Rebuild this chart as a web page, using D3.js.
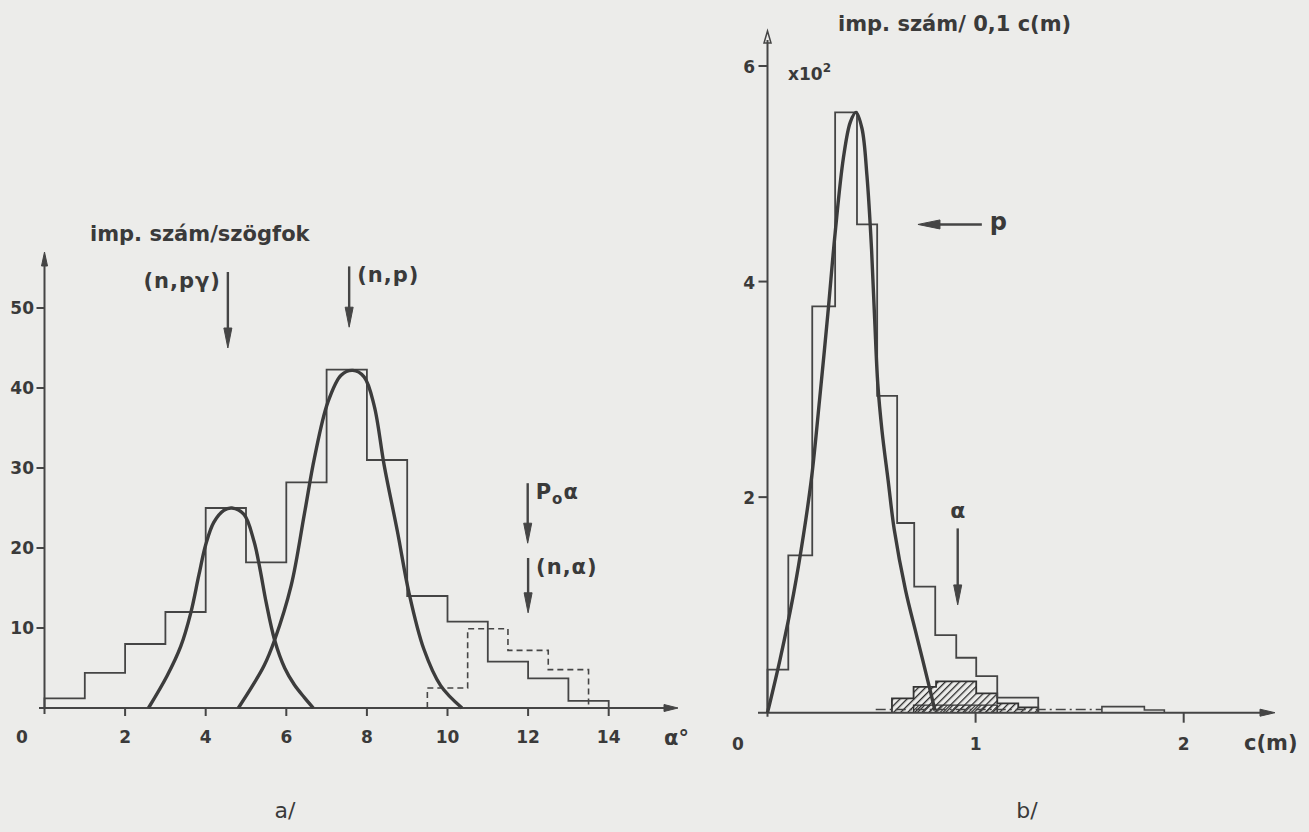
<!DOCTYPE html>
<html>

<head>
  <meta charset='utf-8'>
  <title>imp. szám spektrumok</title>
  <script src="https://cdnjs.cloudflare.com/ajax/libs/d3/7.8.5/d3.min.js"></script>
  <style>
    body { margin: 0; background: #ececea; }
    text { font-family: 'DejaVu Sans', sans-serif; fill: #3a3a3a; font-weight: bold; }
    .tick-label { font-size: 17px; }
    .label { font-size: 21px; }
  </style>
</head>

<body>
  <svg id="chart" width="1309" height="832"></svg>
  <script>
    // ---- a/ panel: counts per degree ----
    const angleEdges = [0, 1, 2, 3, 4, 5, 6, 7, 8, 9, 10, 11, 12, 13, 14];
    const angleCounts = [1.2, 4.4, 8, 12, 25, 18.2, 28.2, 42.3, 31, 14, 10.8, 5.8, 3.7, 0.9];
    const alphaEdges = [9.5, 10.5, 11.5, 12.5, 13.5];
    const alphaCounts = [2.5, 9.9, 7.2, 4.8];
    // fitted peaks as [angle, count]
    const npgCurve = [[2.58, 0], [3.04, 4], [3.38, 7.7], [3.63, 11.9], [3.83, 16.6], [4.0, 20.4], [4.2, 23.2],
      [4.45, 24.7], [4.65, 25.0], [4.95, 24.2], [5.2, 20.8], [5.35, 17.3], [5.5, 13.2], [5.71, 8.5],
      [5.96, 5.0], [6.2, 2.9], [6.45, 1.3], [6.67, 0]];
    const npCurve = [[4.81, 0], [5.14, 2.6], [5.45, 5.3], [5.71, 8.5], [6.12, 15.3], [6.45, 24.3], [6.7, 31.3],
      [7.03, 38.2], [7.36, 41.6], [7.65, 42.2], [7.93, 41.4], [8.18, 37.8], [8.43, 30.3], [8.76, 22],
      [9.04, 14.5], [9.41, 7.4], [9.83, 2.8], [10.36, 0]];
    const angleTicksX = [2, 4, 6, 8, 10, 12, 14];
    const angleTicksY = [10, 20, 30, 40, 50];

    // ---- b/ panel: counts per 0.1 c(m), x10^2 ----
    const rangeEdges = [0, 0.10, 0.215, 0.325, 0.43, 0.527, 0.623, 0.705, 0.806, 0.907, 1.003, 1.104, 1.301];
    const rangeCounts = [0.40, 1.46, 3.77, 5.57, 4.53, 2.94, 1.76, 1.17, 0.72, 0.51, 0.34, 0.14];
    const tailEdges = [1.607, 1.811, 1.907];
    const tailCounts = [0.056, 0.025];
    const hatchEdges = [0.598, 0.702, 0.81, 1.003, 1.104, 1.205, 1.301];
    const hatchCounts = [0.133, 0.24, 0.29, 0.18, 0.087, 0.05];
    const hatchLowEdges = [0.702, 1.104];
    const hatchLowCounts = [0.07];
    const dashLevel = { from: 0.52, to: 1.607, value: 0.03 };
    const protonCurve = [[0, 0], [0.061, 0.5], [0.125, 1.1], [0.173, 1.65], [0.213, 2.2], [0.25, 2.9],
      [0.29, 3.7], [0.325, 4.45], [0.365, 5.15], [0.398, 5.48], [0.425, 5.57], [0.454, 5.42], [0.478, 4.98],
      [0.5, 4.3], [0.515, 3.65], [0.53, 3.05], [0.55, 2.62], [0.58, 2.15], [0.609, 1.7], [0.663, 1.14],
      [0.716, 0.72], [0.761, 0.37], [0.805, 0.02]];
    const rangeTicksX = [1, 2];
    const rangeTicksY = [2, 4, 6];

    const svg = d3.select('#chart');
    svg.append('rect').attr('width', 1309).attr('height', 832).attr('fill', '#ececea');

    const defs = svg.append('defs');
    function hatch(id, size, width) {
      defs.append('pattern')
        .attr('id', id)
        .attr('width', size).attr('height', size)
        .attr('patternUnits', 'userSpaceOnUse')
        .attr('patternTransform', 'rotate(45)')
        .append('line')
        .attr('x1', 0).attr('y1', 0).attr('x2', 0).attr('y2', size)
        .attr('stroke', '#2a2a2a').attr('stroke-width', width);
    }
    hatch('hatchUp', 5, 2.6);
    hatch('hatchLow', 4, 2.2);

    const ink = '#454545';

    const xL = d3.scaleLinear().domain([0, 14]).range([44.5, 608.7]);
    const yL = d3.scaleLinear().domain([0, 50]).range([708, 308]);
    const xR = d3.scaleLinear().domain([0, 2]).range([767.5, 1183.7]);
    const yR = d3.scaleLinear().domain([0, 6]).range([712.7, 66]);

    function stepPoints(edges, counts) {
      const pts = [[edges[0], 0]];
      counts.forEach((c, i) => {
        pts.push([edges[i], c]);
        pts.push([edges[i + 1], c]);
      });
      pts.push([edges[edges.length - 1], 0]);
      return pts;
    }

    function arrowHead(g, x, y, dir, len, half, open) {
      // dir: 'down', 'left', 'right', 'up'
      let pts;
      if (dir === 'down') pts = [[x, y], [x - half, y - len], [x + half, y - len]];
      if (dir === 'up') pts = [[x, y], [x - half, y + len], [x + half, y + len]];
      if (dir === 'left') pts = [[x, y], [x + len, y - half], [x + len, y + half]];
      if (dir === 'right') pts = [[x, y], [x - len, y - half], [x - len, y + half]];
      g.append('path')
        .attr('d', 'M' + pts.map(p => p.join(',')).join('L') + 'Z')
        .attr('fill', open ? 'none' : ink)
        .attr('stroke', ink)
        .attr('stroke-width', open ? 1.5 : 1);
    }

    // ================= a/ =================
    const ga = svg.append('g');
    const lineL = d3.line().x(d => xL(d[0])).y(d => yL(d[1]));
    const smoothL = d3.line().x(d => xL(d[0])).y(d => yL(d[1])).curve(d3.curveCatmullRom.alpha(0.5));

    // axes
    ga.append('line').attr('x1', 39).attr('x2', 670).attr('y1', yL(0)).attr('y2', yL(0))
      .attr('stroke', ink).attr('stroke-width', 2);
    arrowHead(ga, 678, yL(0), 'right', 14, 3.5, false);
    ga.append('line').attr('x1', xL(0)).attr('x2', xL(0)).attr('y1', yL(0) + 6).attr('y2', 256)
      .attr('stroke', ink).attr('stroke-width', 2);
    arrowHead(ga, xL(0), 252, 'up', 14, 3, false);

    ga.selectAll('.xt').data(angleTicksX).join('line')
      .attr('x1', d => xL(d)).attr('x2', d => xL(d))
      .attr('y1', yL(0)).attr('y2', yL(0) + 8)
      .attr('stroke', ink).attr('stroke-width', 2);
    ga.selectAll('.yt').data(angleTicksY).join('line')
      .attr('x1', xL(0) - 8).attr('x2', xL(0))
      .attr('y1', d => yL(d)).attr('y2', d => yL(d))
      .attr('stroke', ink).attr('stroke-width', 2);

    ga.selectAll('.xl').data(angleTicksX).join('text')
      .attr('class', 'tick-label')
      .attr('x', d => xL(d)).attr('y', 743)
      .attr('text-anchor', 'middle')
      .text(d => d);
    ga.append('text').attr('class', 'tick-label').attr('x', 22).attr('y', 743)
      .attr('text-anchor', 'middle').text('0');
    ga.selectAll('.yl').data(angleTicksY).join('text')
      .attr('class', 'tick-label')
      .attr('x', 34).attr('y', d => yL(d) + 6)
      .attr('text-anchor', 'end')
      .text(d => d);
    ga.append('text').attr('class', 'label').attr('x', 664).attr('y', 745).text('α°');
    ga.append('text').attr('class', 'label').attr('x', 90).attr('y', 241).text('imp. szám/szögfok');

    // histograms
    ga.append('path').attr('d', lineL(stepPoints(angleEdges, angleCounts)))
      .attr('fill', 'none').attr('stroke', ink).attr('stroke-width', 1.8);
    ga.append('path').attr('d', lineL(stepPoints(alphaEdges, alphaCounts)))
      .attr('fill', 'none').attr('stroke', ink).attr('stroke-width', 1.6)
      .attr('stroke-dasharray', '6,4');

    // fitted peaks
    [npgCurve, npCurve].forEach(c => {
      ga.append('path').attr('d', smoothL(c))
        .attr('fill', 'none').attr('stroke', '#3c3c3c').attr('stroke-width', 3.4);
    });

    // reaction markers
    const angleMarks = [
      { label: ['(n,pγ)'], x: 4.55, from: 54.5, to: 45, side: 'left' },
      { label: ['(n,p)'], x: 7.56, from: 55.2, to: 47.6, side: 'right' },
      { label: ['P', 'o', 'α'], x: 11.99, from: 28.1, to: 20.6, side: 'right' },
      { label: ['(n,α)'], x: 12.0, from: 18.75, to: 11.9, side: 'right' }
    ];
    angleMarks.forEach(m => {
      ga.append('line').attr('x1', xL(m.x)).attr('x2', xL(m.x))
        .attr('y1', yL(m.from)).attr('y2', yL(m.to) - 14)
        .attr('stroke', ink).attr('stroke-width', 2.4);
      arrowHead(ga, xL(m.x), yL(m.to), 'down', 20, 4, false);
      const t = ga.append('text')
        .attr('class', 'label')
        .attr('x', m.side === 'left' ? xL(m.x) - 7 : xL(m.x) + 8)
        .attr('y', yL(m.from) + 16)
        .attr('text-anchor', m.side === 'left' ? 'end' : 'start')
        .style('letter-spacing', '1px');
      if (m.label.length === 1) {
        t.text(m.label[0]);
      } else {
        t.append('tspan').text(m.label[0]);
        t.append('tspan').attr('dy', 5).style('font-size', '15px').text(m.label[1]);
        t.append('tspan').attr('dy', -5).text(m.label[2]);
      }
    });

    svg.append('text').attr('x', 285).attr('y', 818).attr('text-anchor', 'middle')
      .style('font-size', '22px').style('font-weight', 'normal').text('a/');

    // ================= b/ =================
    const gb = svg.append('g');
    const lineR = d3.line().x(d => xR(d[0])).y(d => yR(d[1]));
    const smoothR = d3.line().x(d => xR(d[0])).y(d => yR(d[1])).curve(d3.curveCatmullRom.alpha(0.5));

    // hatched alpha histograms
    gb.append('path').attr('d', lineR(stepPoints(hatchEdges, hatchCounts)))
      .attr('fill', 'url(#hatchUp)').attr('stroke', '#333').attr('stroke-width', 1.8);
    gb.append('path').attr('d', lineR(stepPoints(hatchLowEdges, hatchLowCounts)))
      .attr('fill', 'url(#hatchLow)').attr('stroke', '#333').attr('stroke-width', 1.4);

    // dash-dot level along the base
    gb.append('line')
      .attr('x1', xR(dashLevel.from)).attr('x2', xR(dashLevel.to))
      .attr('y1', yR(dashLevel.value)).attr('y2', yR(dashLevel.value))
      .attr('stroke', ink).attr('stroke-width', 1.4)
      .attr('stroke-dasharray', '10,4,2,4');

    // axes
    gb.append('line').attr('x1', 758).attr('x2', 1262).attr('y1', yR(0)).attr('y2', yR(0))
      .attr('stroke', ink).attr('stroke-width', 2);
    arrowHead(gb, 1275, yR(0), 'right', 15, 3.5, false);
    gb.append('line').attr('x1', xR(0)).attr('x2', xR(0)).attr('y1', yR(0) + 4).attr('y2', 40)
      .attr('stroke', ink).attr('stroke-width', 2);
    arrowHead(gb, xR(0), 31, 'up', 12, 3.5, true);

    gb.selectAll('.xt').data(rangeTicksX).join('line')
      .attr('x1', d => xR(d)).attr('x2', d => xR(d))
      .attr('y1', yR(0)).attr('y2', yR(0) + 10)
      .attr('stroke', ink).attr('stroke-width', 2);
    gb.selectAll('.yt').data(rangeTicksY).join('line')
      .attr('x1', xR(0) - 9).attr('x2', xR(0))
      .attr('y1', d => yR(d)).attr('y2', d => yR(d))
      .attr('stroke', ink).attr('stroke-width', 2);

    gb.selectAll('.xl').data(rangeTicksX).join('text')
      .attr('class', 'tick-label')
      .attr('x', d => xR(d)).attr('y', 750)
      .attr('text-anchor', 'middle')
      .text(d => d);
    gb.append('text').attr('class', 'tick-label').attr('x', 738).attr('y', 750)
      .attr('text-anchor', 'middle').text('0');
    gb.selectAll('.yl').data(rangeTicksY).join('text')
      .attr('class', 'tick-label')
      .attr('x', 755).attr('y', d => yR(d) + 7)
      .attr('text-anchor', 'end')
      .text(d => d);
    gb.append('text').attr('class', 'label').attr('x', 1244).attr('y', 750).text('c(m)');
    gb.append('text').attr('class', 'label').attr('x', 838).attr('y', 31).text('imp. szám/ 0,1 c(m)');
    const exp = gb.append('text').attr('x', 788).attr('y', 80).style('font-size', '17px');
    exp.append('tspan').text('x10');
    exp.append('tspan').attr('dy', -8).style('font-size', '12px').text('2');

    // histograms
    gb.append('path').attr('d', lineR(stepPoints(rangeEdges, rangeCounts)))
      .attr('fill', 'none').attr('stroke', ink).attr('stroke-width', 1.8);
    gb.append('path').attr('d', lineR(stepPoints(tailEdges, tailCounts)))
      .attr('fill', 'none').attr('stroke', ink).attr('stroke-width', 1.6);

    gb.append('path').attr('d', smoothR(protonCurve))
      .attr('fill', 'none').attr('stroke', '#3c3c3c').attr('stroke-width', 3.4);

    // p marker (horizontal) and alpha marker (vertical)
    const pMark = { label: 'p', y: 4.53, from: 1.03, to: 0.723 };
    gb.append('line').attr('x1', xR(pMark.from)).attr('x2', xR(pMark.to) + 16)
      .attr('y1', yR(pMark.y)).attr('y2', yR(pMark.y))
      .attr('stroke', ink).attr('stroke-width', 2.4);
    arrowHead(gb, xR(pMark.to), yR(pMark.y), 'left', 22, 4.5, false);
    gb.append('text').attr('x', xR(pMark.from) + 8).attr('y', yR(pMark.y) + 6)
      .style('font-size', '24px').text(pMark.label);

    const aMark = { label: 'α', x: 0.914, from: 1.71, to: 1.0 };
    gb.append('line').attr('x1', xR(aMark.x)).attr('x2', xR(aMark.x))
      .attr('y1', yR(aMark.from)).attr('y2', yR(aMark.to) - 14)
      .attr('stroke', ink).attr('stroke-width', 2.4);
    arrowHead(gb, xR(aMark.x), yR(aMark.to), 'down', 20, 4, false);
    gb.append('text').attr('x', xR(aMark.x)).attr('y', yR(aMark.from) - 10)
      .attr('text-anchor', 'middle').style('font-size', '22px').text(aMark.label);

    svg.append('text').attr('x', 1027).attr('y', 818).attr('text-anchor', 'middle')
      .style('font-size', '22px').style('font-weight', 'normal').text('b/');
  </script>
</body>

</html>
